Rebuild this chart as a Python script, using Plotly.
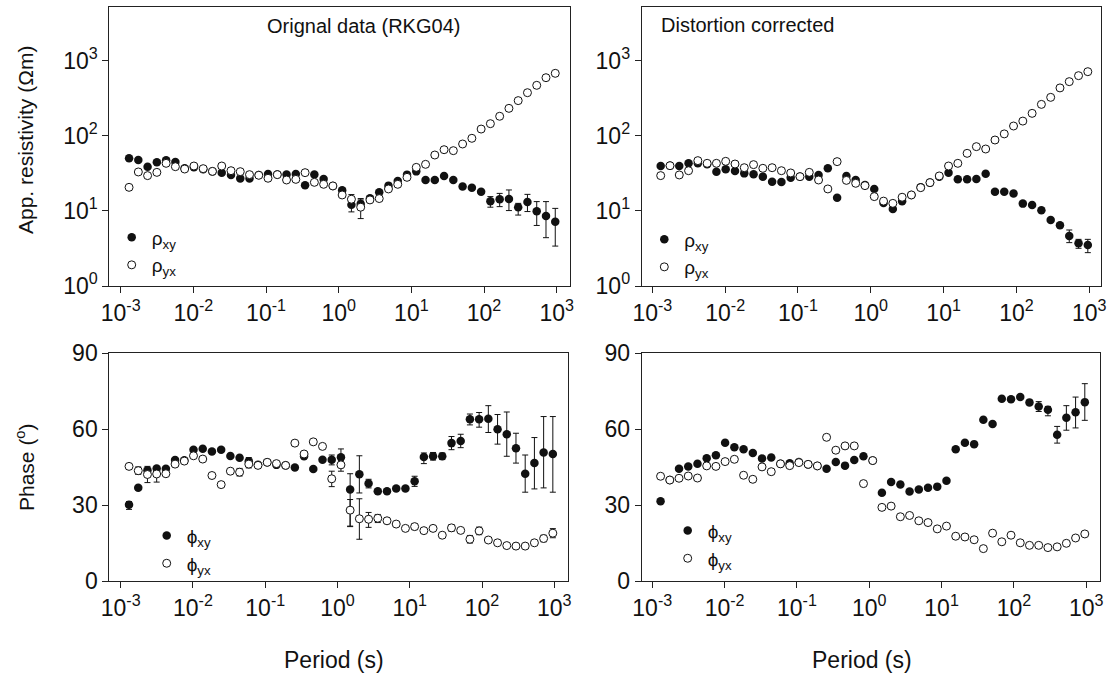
import plotly.graph_objects as go

W, H = 1107, 674

# ---------------- data ----------------
periods = [0.001303, 0.001748, 0.002344, 0.003144, 0.004217, 0.005656, 0.007586, 0.01017,
           0.01365, 0.01830, 0.02455, 0.03293, 0.04416, 0.05923, 0.07943, 0.1065, 0.1429,
           0.1916, 0.2570, 0.3447, 0.4624, 0.6202, 0.8318, 1.116, 1.496, 2.007, 2.692, 3.610,
           4.842, 6.494, 8.710, 11.68, 15.67, 21.01, 28.18, 37.80, 50.70, 68.00, 91.20, 122.3,
           164.1, 220.1, 295.1, 395.9, 530.9, 712.1, 955.0]

# Original data (RKG04)
rho_xy_orig = [50.1, 47.6, 38.8, 44.3, 47.1, 44.8, 36.9, 38.0, 35.8, 33.6,
               32.3, 30.1, 27.1, 27.1, 30.0, 31.0, 30.6, 30.6, 31.0, 21.9,
               30.6, 26.6, 21.5, 18.8, 12.1, 12.4, 14.7, 17.7, 21.7, 25.0,
               30.4, 33.6, 25.8, 25.8, 29.2, 25.8, 21.2, 20.4, 18.0, 13.4,
               14.3, 14.4, 11.2, 13.1, 9.9, 8.55, 7.19]
rho_yx_orig = [20.6, 33.0, 29.5, 32.6, 43.0, 38.8, 36.1, 39.6, 36.5, 33.6,
               39.6, 34.3, 33.3, 30.4, 29.8, 27.2, 30.4, 25.8, 26.3, 32.3,
               24.0, 22.6, 21.5, 16.3, 14.3, 11.2, 14.0, 14.6, 19.6, 22.6,
               28.0, 38.0, 41.7, 55.5, 65.3, 63.4, 77.8, 92.6, 123, 145,
               182, 232, 294, 375, 470, 594, 679]
phi_xy_orig = [30.1, 36.9, 43.8, 44.5, 44.4, 47.8, 47.7, 51.9, 52.3, 51.2,
               51.9, 49.4, 48.7, 47.3, 45.9, 46.9, 45.9, 45.7, 44.9, 49.3,
               44.3, 47.9, 47.9, 48.9, 36.2, 42.2, 38.5, 35.5, 35.5, 36.6,
               36.6, 39.4, 49.0, 49.3, 49.3, 54.5, 55.3, 63.9, 63.9, 64.1,
               60.0, 58.0, 52.5, 42.4, 46.6, 50.8, 50.2]
phi_yx_orig = [45.3, 43.6, 42.1, 42.3, 42.4, 46.2, 47.4, 49.5, 48.2, 41.7,
               38.1, 43.4, 43.0, 46.2, 45.7, 46.9, 46.4, 45.7, 54.5, 50.2,
               55.0, 53.2, 40.4, 45.9, 28.0, 24.6, 24.4, 24.8, 23.8, 22.5,
               20.8, 21.5, 19.9, 20.8, 18.1, 21.0, 20.0, 16.5, 19.8, 16.2,
               15.1, 14.0, 13.8, 13.8, 15.1, 16.8, 18.9]

# Distortion corrected
rho_xy_corr = [39.6, 40.0, 39.6, 43.0, 43.0, 41.7, 33.3, 35.8, 34.0, 31.6,
               30.7, 28.6, 24.5, 24.3, 27.7, 28.6, 28.6, 30.1, 36.9, 15.0,
               29.2, 25.8, 22.1, 19.6, 12.7, 10.6, 13.4, 16.3, 20.6, 23.8,
               28.6, 32.3, 26.3, 26.3, 26.6, 31.3, 18.0, 18.0, 17.1, 12.5,
               12.0, 10.2, 7.57, 6.43, 4.63, 3.70, 3.52]
rho_yx_corr = [29.5, 40.0, 30.1, 34.3, 46.7, 43.0, 43.0, 45.7, 42.1, 37.6,
               41.3, 36.9, 37.6, 34.3, 32.0, 28.6, 32.6, 25.8, 19.6, 45.3,
               25.5, 23.3, 21.7, 15.5, 13.5, 12.6, 15.2, 16.3, 20.4, 23.8,
               29.2, 39.6, 43.0, 58.4, 71.7, 66.7, 87.9, 106, 135, 157,
               199, 262, 325, 434, 526, 632, 714]
phi_xy_corr = [31.5, 39.9, 44.4, 45.3, 46.3, 48.5, 49.7, 54.6, 52.9, 52.1,
               50.6, 48.4, 48.8, 46.3, 46.5, 47.0, 46.1, 45.5, 44.4, 47.0,
               45.6, 47.8, 49.3, 47.6, 34.9, 39.1, 38.1, 35.4, 36.2, 36.9,
               37.3, 39.6, 52.1, 54.6, 54.1, 63.7, 62.1, 72.0, 71.8, 72.7,
               70.6, 69.0, 67.7, 57.8, 64.5, 66.7, 70.7]
phi_yx_corr = [41.4, 39.9, 40.6, 41.5, 40.7, 45.5, 45.3, 47.2, 48.1, 41.8,
               40.2, 45.1, 43.2, 46.3, 45.6, 46.8, 46.1, 45.5, 56.8, 51.7,
               53.4, 53.4, 38.5, 47.6, 29.1, 29.6, 25.4, 25.9, 23.8, 23.1,
               20.6, 21.7, 17.7, 17.4, 16.3, 12.8, 18.9, 15.5, 18.1, 15.1,
               14.1, 14.1, 13.2, 13.5, 14.9, 17.0, 18.6]

# Error bars: index (0-based), lower bound, upper bound
rho_xy_orig_err_idx = [24, 25, 39, 40, 41, 42, 43, 44, 45, 46]
rho_xy_orig_err_lo = [9.7, 10.8, 11.2, 11.4, 10.1, 8.8, 9.8, 6.4, 4.4, 3.4]
rho_xy_orig_err_hi = [14.3, 14.0, 15.5, 17.1, 19.0, 12.6, 16.6, 13.3, 13.3, 10.8]
rho_yx_orig_err_idx = [24, 25]
rho_yx_orig_err_lo = [12.5, 7.9]
rho_yx_orig_err_hi = [16.5, 14.6]

phi_xy_orig_err_idx = [0, 2, 13, 22, 23, 24, 25, 26, 31, 32, 33, 34, 35, 36, 37, 38,
                       39, 40, 41, 42, 43, 44, 45, 46]
phi_xy_orig_err_lo = [28.3, 42.3, 45.8, 45.9, 45.9, 21.7, 34.8, 36.8, 37.4, 46.4, 47.8,
                      48.0, 51.9, 52.7, 61.7, 60.8, 58.7, 54.1, 49.3, 46.6, 35.1, 36.4,
                      36.8, 35.1]
phi_xy_orig_err_hi = [31.4, 45.3, 48.8, 49.8, 52.2, 42.4, 49.5, 40.2, 41.4, 50.6, 50.8,
                      50.6, 57.1, 58.0, 66.0, 66.6, 69.3, 65.8, 66.8, 58.4, 49.8, 56.7,
                      65.0, 65.0]
phi_yx_orig_err_idx = [0, 1, 2, 3, 12, 13, 22, 23, 24, 25, 26, 27, 31, 35, 37, 38, 45, 46]
phi_yx_orig_err_lo = [44.3, 42.1, 38.9, 39.1, 41.5, 44.7, 37.3, 43.4, 21.5, 16.5, 21.2,
                      23.1, 20.3, 19.7, 15.0, 18.3, 15.5, 17.1]
phi_yx_orig_err_hi = [46.3, 45.1, 43.9, 44.0, 44.5, 47.7, 43.4, 47.7, 32.2, 32.5, 27.1,
                      26.3, 22.7, 22.3, 18.0, 21.3, 18.1, 20.7]

rho_xy_corr_err_idx = [44, 45, 46]
rho_xy_corr_err_lo = [3.78, 3.18, 2.78]
rho_xy_corr_err_hi = [5.57, 4.18, 4.18]

phi_xy_corr_err_idx = [41, 42, 43, 44, 45, 46]
phi_xy_corr_err_lo = [67.0, 65.3, 54.5, 59.6, 60.5, 63.5]
phi_xy_corr_err_hi = [70.9, 69.0, 61.1, 69.3, 72.7, 78.0]

x_tickvals = [1e-3, 1e-2, 1e-1, 1, 10, 100, 1000]
x_ticktext = ["10<sup>-3</sup>", "10<sup>-2</sup>", "10<sup>-1</sup>", "10<sup>0</sup>",
              "10<sup>1</sup>", "10<sup>2</sup>", "10<sup>3</sup>"]
rho_tickvals = [1, 10, 100, 1000]
rho_ticktext = ["10<sup>0</sup>", "10<sup>1</sup>", "10<sup>2</sup>", "10<sup>3</sup>"]
phi_tickvals = [0, 30, 60, 90]
phi_ticktext = ["0", "30", "60", "90"]

panel_titles = ["Orignal data (RKG04)", "Distortion corrected"]
rho_title = "App. resistivity (Ωm)"
phi_title = "Phase (<sup>o</sup>)"
x_title = "Period (s)"
leg_rho = ["ρ<sub>xy</sub>", "ρ<sub>yx</sub>"]
leg_phi = ["ϕ<sub>xy</sub>", "ϕ<sub>yx</sub>"]

# ---------------- styling ----------------
FONT = "Liberation Sans, Arial, sans-serif"
INK = "#111111"
LINE = "#222222"


def err_arrays(y, idx, lo, hi):
    plus = [None] * len(y)
    minus = [None] * len(y)
    for i, l, h in zip(idx, lo, hi):
        plus[i] = h - y[i]
        minus[i] = y[i] - l
    return plus, minus


def pts(y, filled, ax, name, legend, err=None):
    if filled:
        marker = dict(size=8.5, color=INK, line=dict(width=0))
    else:
        marker = dict(size=8, color="white", line=dict(color=INK, width=1))
    tr = dict(x=periods, y=y, mode="markers", marker=marker, name=name,
              xaxis="x" + ax, yaxis="y" + ax, legend=legend, showlegend=True,
              cliponaxis=False)
    if err is not None:
        plus, minus = err
        tr["error_y"] = dict(type="data", symmetric=False, array=plus, arrayminus=minus,
                             color=INK, thickness=1, width=3)
    return go.Scatter(**tr)


fig = go.Figure()
fig.add_trace(pts(rho_xy_orig, True, "", leg_rho[0], "legend",
                  err_arrays(rho_xy_orig, rho_xy_orig_err_idx, rho_xy_orig_err_lo, rho_xy_orig_err_hi)))
fig.add_trace(pts(rho_yx_orig, False, "", leg_rho[1], "legend",
                  err_arrays(rho_yx_orig, rho_yx_orig_err_idx, rho_yx_orig_err_lo, rho_yx_orig_err_hi)))
fig.add_trace(pts(rho_xy_corr, True, "2", leg_rho[0], "legend2",
                  err_arrays(rho_xy_corr, rho_xy_corr_err_idx, rho_xy_corr_err_lo, rho_xy_corr_err_hi)))
fig.add_trace(pts(rho_yx_corr, False, "2", leg_rho[1], "legend2"))
fig.add_trace(pts(phi_xy_orig, True, "3", leg_phi[0], "legend3",
                  err_arrays(phi_xy_orig, phi_xy_orig_err_idx, phi_xy_orig_err_lo, phi_xy_orig_err_hi)))
fig.add_trace(pts(phi_yx_orig, False, "3", leg_phi[1], "legend3",
                  err_arrays(phi_yx_orig, phi_yx_orig_err_idx, phi_yx_orig_err_lo, phi_yx_orig_err_hi)))
fig.add_trace(pts(phi_xy_corr, True, "4", leg_phi[0], "legend4",
                  err_arrays(phi_xy_corr, phi_xy_corr_err_idx, phi_xy_corr_err_lo, phi_xy_corr_err_hi)))
fig.add_trace(pts(phi_yx_corr, False, "4", leg_phi[1], "legend4"))


def px_x(p):
    return p / W


def px_y(p):
    return 1 - p / H


axis_common = dict(showline=True, mirror=True, linecolor=LINE, linewidth=1,
                   ticks="outside", ticklen=6, tickwidth=1, tickcolor=LINE,
                   showgrid=False, zeroline=False, automargin=False,
                   tickfont=dict(family=FONT, size=23, color=INK))

xa = dict(type="log", tickmode="array", tickvals=x_tickvals, ticktext=x_ticktext, **axis_common)
ya_rho = dict(type="log", tickmode="array", tickvals=rho_tickvals, ticktext=rho_ticktext,
              range=[0, 3.711], domain=[px_y(286), px_y(7.3)], **axis_common)
ya_phi = dict(tickmode="array", tickvals=phi_tickvals, ticktext=phi_ticktext,
              range=[0, 90], domain=[px_y(581), px_y(353.3)], **axis_common)

fig.update_layout(
    template="none",
    width=W, height=H, autosize=False,
    margin=dict(l=0, r=0, t=0, b=0, pad=0, autoexpand=False),
    paper_bgcolor="white", plot_bgcolor="white",
    font=dict(family=FONT, color=INK),
    xaxis=dict(domain=[px_x(109.3), px_x(570)], range=[-3.157, 3.183], anchor="y", **xa),
    yaxis=dict(anchor="x", **ya_rho),
    xaxis2=dict(domain=[px_x(641.7), px_x(1101)], range=[-3.146, 3.161], anchor="y2", **xa),
    yaxis2=dict(anchor="x2", **ya_rho),
    xaxis3=dict(domain=[px_x(109.3), px_x(568.3)], range=[-3.158, 3.194], anchor="y3", **xa),
    yaxis3=dict(anchor="x3", **ya_phi),
    xaxis4=dict(domain=[px_x(641.7), px_x(1100)], range=[-3.146, 3.19], anchor="y4", **xa),
    yaxis4=dict(anchor="x4", **ya_phi),
)

leg_common = dict(xanchor="left", yanchor="top", bgcolor="rgba(0,0,0,0)", borderwidth=0,
                  font=dict(family=FONT, size=19, color=INK), itemwidth=30, tracegroupgap=0,
                  traceorder="normal")
fig.update_layout(
    legend=dict(x=px_x(131.7 - 20), y=px_y(237.3 - 19), **leg_common),
    legend2=dict(x=px_x(664.3 - 20), y=px_y(239.3 - 19), **leg_common),
    legend3=dict(x=px_x(166.7 - 20), y=px_y(535.7 - 19), **leg_common),
    legend4=dict(x=px_x(687.7 - 20), y=px_y(530.7 - 19), **leg_common),
)

annots = [
    dict(text=panel_titles[0], x=px_x(363.5), y=px_y(26), size=20, angle=0),
    dict(text=panel_titles[1], x=px_x(747.5), y=px_y(25), size=20, angle=0),
    dict(text=rho_title, x=px_x(25), y=px_y(140), size=21, angle=-90),
    dict(text=phi_title, x=px_x(25), y=px_y(467), size=21, angle=-90),
    dict(text=x_title, x=px_x(334), y=px_y(660), size=23, angle=0),
    dict(text=x_title, x=px_x(862), y=px_y(660), size=23, angle=0),
]
for a in annots:
    fig.add_annotation(text=a["text"], x=a["x"], y=a["y"], xref="paper", yref="paper",
                       xanchor="center", yanchor="middle", showarrow=False,
                       textangle=a["angle"], font=dict(family=FONT, size=a["size"], color=INK))

fig.write_html("out.html", config={"displayModeBar": False},
               post_script="document.body.style.margin='0';document.body.style.overflow='hidden';")
